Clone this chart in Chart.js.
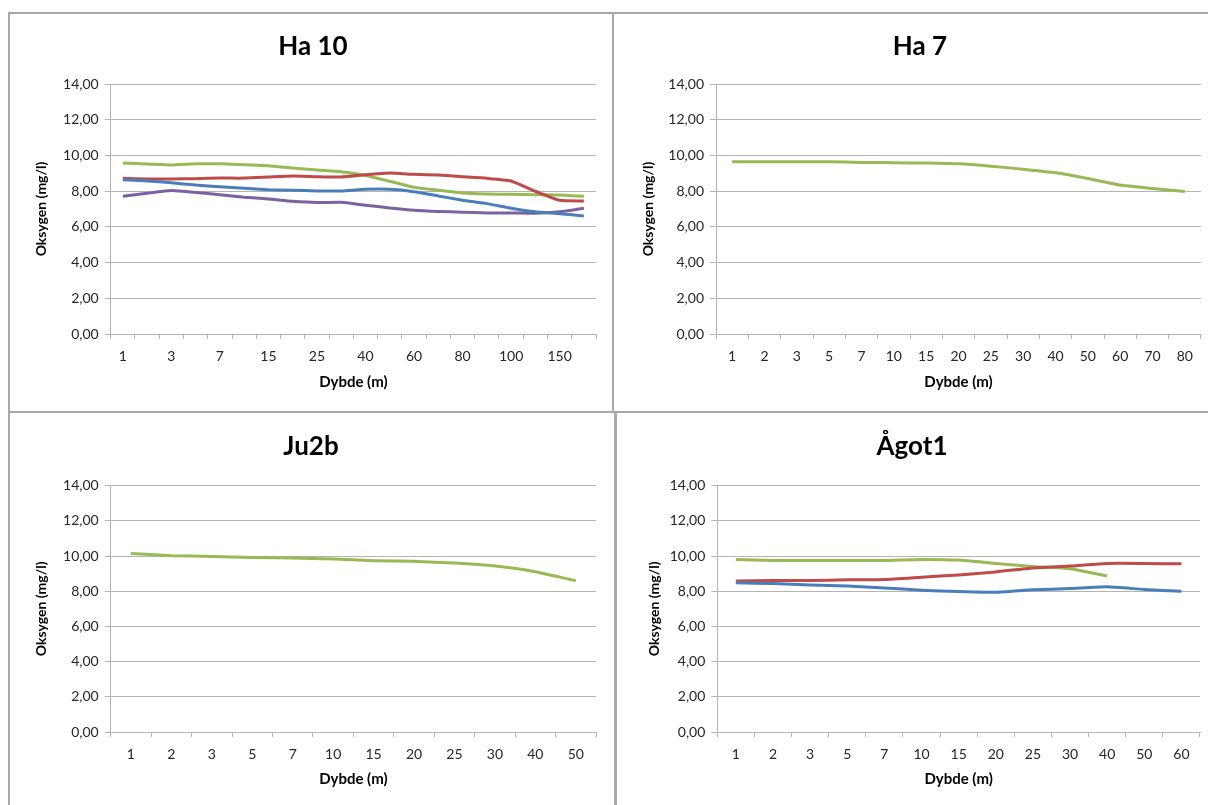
<!DOCTYPE html>
<html>
<head>
<meta charset="utf-8">
<script src="https://cdn.jsdelivr.net/npm/chart.js@4.4.1/dist/chart.umd.min.js"></script>
<style>
  body { margin: 0; background: #fff; width: 1208px; height: 805px; position: relative; overflow: hidden; }
  .panel { position: absolute; }
  .line { position: absolute; background: #a8a8a8; }
</style>
</head>
<body>
<div class="line" style="left:8px;top:12px;width:1200px;height:2px"></div>
<div class="line" style="left:8px;top:12px;width:2px;height:793px"></div>
<div class="line" style="left:612px;top:12px;width:2px;height:400px"></div>
<div class="line" style="left:8px;top:411px;width:1200px;height:2px"></div>
<div class="line" style="left:614px;top:411px;width:3px;height:394px"></div>

<div class="panel" style="left:8px;top:13px"><canvas id="ha10" width="605" height="399"></canvas></div>
<div class="panel" style="left:613px;top:13px"><canvas id="ha7" width="595" height="399"></canvas></div>
<div class="panel" style="left:8px;top:412px"><canvas id="ju2b" width="605" height="393"></canvas></div>
<div class="panel" style="left:616px;top:412px"><canvas id="agot1" width="592" height="393"></canvas></div>

<script>
// Depth categories (m) for each station
var ha10Depths = ['1', '2', '3', '5', '7', '10', '15', '20', '25', '30', '40', '50', '60', '70', '80', '90', '100', '125', '150', '200'];
var ha7Depths = ['1', '2', '3', '5', '7', '10', '15', '20', '25', '30', '40', '50', '60', '70', '80'];
var ju2bDepths = ['1', '2', '3', '5', '7', '10', '15', '20', '25', '30', '40', '50'];
var agot1Depths = ['1', '2', '3', '5', '7', '10', '15', '20', '25', '30', '40', '50', '60'];

// Oxygen (mg/l)
var ha10Blue = [8.64, 8.57, 8.47, 8.34, 8.25, 8.16, 8.08, 8.05, 8.01, 8.01, 8.10, 8.10, 7.97, 7.73, 7.49, 7.30, 7.04, 6.84, 6.74, 6.61];
var ha10Red = [8.72, 8.68, 8.68, 8.70, 8.73, 8.73, 8.79, 8.85, 8.81, 8.79, 8.92, 9.01, 8.94, 8.90, 8.81, 8.72, 8.57, 7.99, 7.49, 7.45];
var ha10Green = [9.57, 9.52, 9.46, 9.53, 9.53, 9.48, 9.42, 9.29, 9.18, 9.09, 8.88, 8.55, 8.21, 8.05, 7.90, 7.84, 7.82, 7.80, 7.79, 7.71];
var ha10Purple = [7.71, 7.88, 8.03, 7.93, 7.80, 7.66, 7.56, 7.43, 7.36, 7.38, 7.21, 7.06, 6.93, 6.86, 6.82, 6.78, 6.78, 6.76, 6.84, 7.04];

var ha7Green = [9.64, 9.64, 9.64, 9.64, 9.61, 9.59, 9.57, 9.53, 9.40, 9.23, 9.03, 8.71, 8.34, 8.15, 7.98];

var ju2bGreen = [10.15, 10.02, 9.98, 9.92, 9.89, 9.83, 9.74, 9.70, 9.60, 9.43, 9.11, 8.60];

var agot1Blue = [8.48, 8.44, 8.36, 8.30, 8.19, 8.06, 7.98, 7.94, 8.08, 8.15, 8.25, 8.10, 8.00];
var agot1Red = [8.59, 8.61, 8.61, 8.65, 8.67, 8.80, 8.93, 9.10, 9.32, 9.43, 9.58, 9.58, 9.56];
var agot1Green = [9.81, 9.75, 9.75, 9.75, 9.75, 9.81, 9.77, 9.58, 9.41, 9.28, 8.86];

var yTickValues = [0, 2, 4, 6, 8, 10, 12, 14];

var BLUE = '#4a7ebb', RED = '#be4b48', GREEN = '#98b954', PURPLE = '#7d60a0';
var GRID = '#b4b4b4';
var FONT = 'Lato, "Open Sans", sans-serif';

function series(data, color) {
  return {
    label: '',
    data: data,
    borderColor: color,
    backgroundColor: color,
    borderWidth: 3,
    pointRadius: 0,
    tension: 0.15,
    fill: false
  };
}

// geom: padding around the chart, width of the y axis box, x axis box height, offsets
function drawChart(id, title, labels, datasets, geom) {
  var ctx = document.getElementById(id).getContext('2d');
  return new Chart(ctx, {
    type: 'line',
    data: { labels: labels, datasets: datasets },
    options: {
      responsive: false,
      animation: false,
      layout: { padding: { left: geom.left, right: geom.right, top: 0, bottom: geom.bottom } },
      plugins: {
        legend: { display: false },
        tooltip: { enabled: false },
        title: {
          display: true,
          text: title,
          color: '#000',
          font: { family: FONT, size: 26, weight: 'bold' },
          padding: { top: geom.titleTop, bottom: geom.titleBottom }
        }
      },
      scales: {
        x: {
          offset: true,
          grid: { offset: true, drawOnChartArea: false, drawTicks: true, tickLength: 5, color: GRID },
          border: { display: true, color: GRID, width: 1 },
          ticks: {
            autoSkip: false,
            maxRotation: 0,
            padding: 9,
            color: '#262626',
            font: { family: FONT, size: 14 },
            callback: function (value, index) {
              if (geom.everyOther && index % 2 === 1) return '';
              return this.getLabelForValue(value);
            }
          },
          title: {
            display: true,
            text: 'Dybde (m)',
            color: '#000',
            font: { family: FONT, size: 15, weight: 'bold' },
            padding: 0
          },
          afterFit: function (scale) { scale.height = geom.xHeight; }
        },
        y: {
          min: 0,
          max: 14,
          afterBuildTicks: function (scale) {
            scale.ticks = yTickValues.map(function (v) { return { value: v }; });
          },
          grid: { color: GRID, tickLength: 6, drawTicks: true },
          border: { display: true, color: GRID, width: 1 },
          ticks: {
            padding: 6,
            color: '#262626',
            font: { family: FONT, size: 14 },
            callback: function (value) { return value.toFixed(2).replace('.', ','); }
          },
          title: {
            display: true,
            text: 'Oksygen (mg/l)',
            color: '#000',
            font: { family: FONT, size: 14, weight: 'bold' },
            padding: { top: geom.yTitlePad, bottom: 0 }
          },
          afterFit: function (scale) { scale.width = geom.yWidth; }
        }
      }
    }
  });
}

drawChart('ha10', 'Ha 10', ha10Depths,
  [series(ha10Blue, BLUE), series(ha10Red, RED), series(ha10Green, GREEN), series(ha10Purple, PURPLE)],
  { left: 22, right: 17, bottom: 21, xHeight: 57, yWidth: 80.7, yTitlePad: 2.6, titleTop: 18.4, titleBottom: 21.4, everyOther: true });

drawChart('ha7', 'Ha 7', ha7Depths,
  [series(ha7Green, GREEN)],
  { left: 26, right: 7, bottom: 21, xHeight: 57, yWidth: 77, yTitlePad: 0.6, titleTop: 18.4, titleBottom: 21.4, everyOther: false });

drawChart('ju2b', 'Ju2b', ju2bDepths,
  [series(ju2bGreen, GREEN)],
  { left: 18, right: 17, bottom: 17, xHeight: 56, yWidth: 84.7, yTitlePad: 6.6, titleTop: 19.4, titleBottom: 23.1, everyOther: false });

drawChart('agot1', 'Ågot1', agot1Depths,
  [series(agot1Blue, BLUE), series(agot1Red, RED), series(agot1Green, GREEN)],
  { left: 8, right: 8, bottom: 17, xHeight: 56, yWidth: 93.3, yTitlePad: 21.6, titleTop: 19.4, titleBottom: 23.1, everyOther: false });
</script>
</body>
</html>
